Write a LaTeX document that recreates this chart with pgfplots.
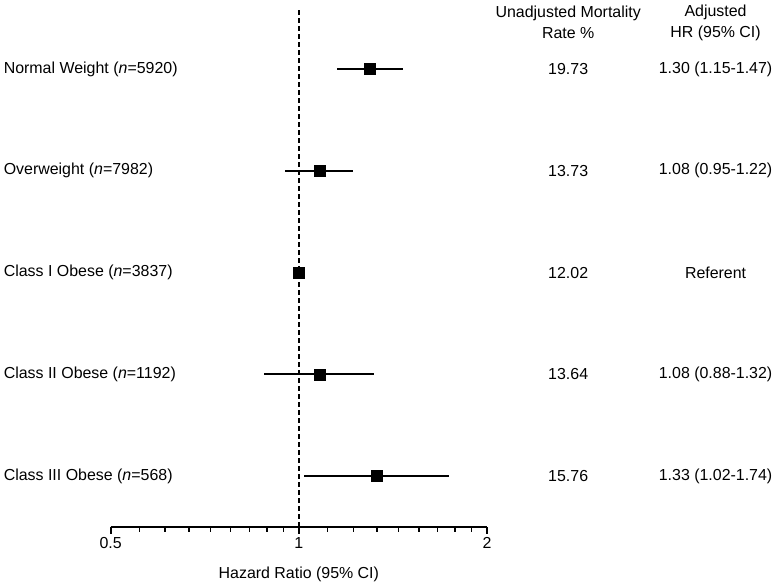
\documentclass[border=0pt]{standalone}
\usepackage{fontspec}
\setmainfont{Liberation Sans}
\usepackage{pgfplots}
\pgfplotsset{compat=1.18}
\begin{document}
\begin{tikzpicture}[font=\fontsize{16}{21}\selectfont]
\begin{axis}[
  scale only axis, width=376.3bp, height=517bp,
  xmode=log,
  xmin=0.5, xmax=2, ymin=0.5, ymax=5.58,
  axis x line*=bottom, axis y line=none,
  x axis line style={line width=1.6bp,-},
  xtick={0.5,1,2}, xticklabels={0.5,1,2},
  minor xtick={0.5556,0.6111,0.6667,0.7222,0.7778,0.8333,0.8889,0.9444,
               1.1111,1.2222,1.3333,1.4444,1.5556,1.6667,1.7778,1.8889},
  tick align=outside, major tick length=7bp, minor tick length=5bp,
  every tick/.style={black, line width=1.6bp},
  xlabel={Hazard Ratio (95\% CI)},
  xlabel style={at={(axis description cs:0.5,0)}, anchor=center, yshift=-47bp},
  clip=false,
  /pgf/number format/assume math mode=true,
]
% reference line at HR = 1
\addplot[black, line width=1.6bp, dash pattern=on 5bp off 3bp] coordinates {(1,0.5) (1,5.58)};

% hazard ratios with 95% CI
\addplot[black, only marks, mark=square*, mark size=5.5bp,
  error bars/.cd, x dir=both, x explicit, error mark=none,
  error bar style={line width=1.8bp}]
  table[x=hr, y=row, x error minus=em, x error plus=ep] {
hr    row  em    ep
1.30  5    0.15  0.17
1.08  4    0.13  0.14
1.00  3    0     0
1.08  2    0.20  0.24
1.33  1    0.31  0.41
};

% group labels
\node[anchor=west, inner xsep=0pt] at (axis cs:0.337,5) {Normal Weight (\textit{n}=5920)};
\node[anchor=west, inner xsep=0pt] at (axis cs:0.337,4) {Overweight (\textit{n}=7982)};
\node[anchor=west, inner xsep=0pt] at (axis cs:0.337,3) {Class I Obese (\textit{n}=3837)};
\node[anchor=west, inner xsep=0pt] at (axis cs:0.337,2) {Class II Obese (\textit{n}=1192)};
\node[anchor=west, inner xsep=0pt] at (axis cs:0.337,1) {Class III Obese (\textit{n}=568)};

% column headers
\node[align=center] at (axis cs:2.697,5.457) {Unadjusted Mortality\\Rate \%};
\node[align=center] at (axis cs:4.642,5.457) {Adjusted\\HR (95\% CI)};

% mortality rates
\node at (axis cs:2.697,5) {19.73};
\node at (axis cs:2.697,4) {13.73};
\node at (axis cs:2.697,3) {12.02};
\node at (axis cs:2.697,2) {13.64};
\node at (axis cs:2.697,1) {15.76};

% adjusted HR
\node at (axis cs:4.642,5) {1.30 (1.15-1.47)};
\node at (axis cs:4.642,4) {1.08 (0.95-1.22)};
\node at (axis cs:4.642,3) {Referent};
\node at (axis cs:4.642,2) {1.08 (0.88-1.32)};
\node at (axis cs:4.642,1) {1.33 (1.02-1.74)};

\coordinate (bl) at (axis description cs:-0.2942,-0.1141);
\coordinate (tr) at (axis description cs:1.7707,1.0193);
\end{axis}
\pgfresetboundingbox
\path[use as bounding box] (bl) rectangle (tr);
\end{tikzpicture}
\end{document}
